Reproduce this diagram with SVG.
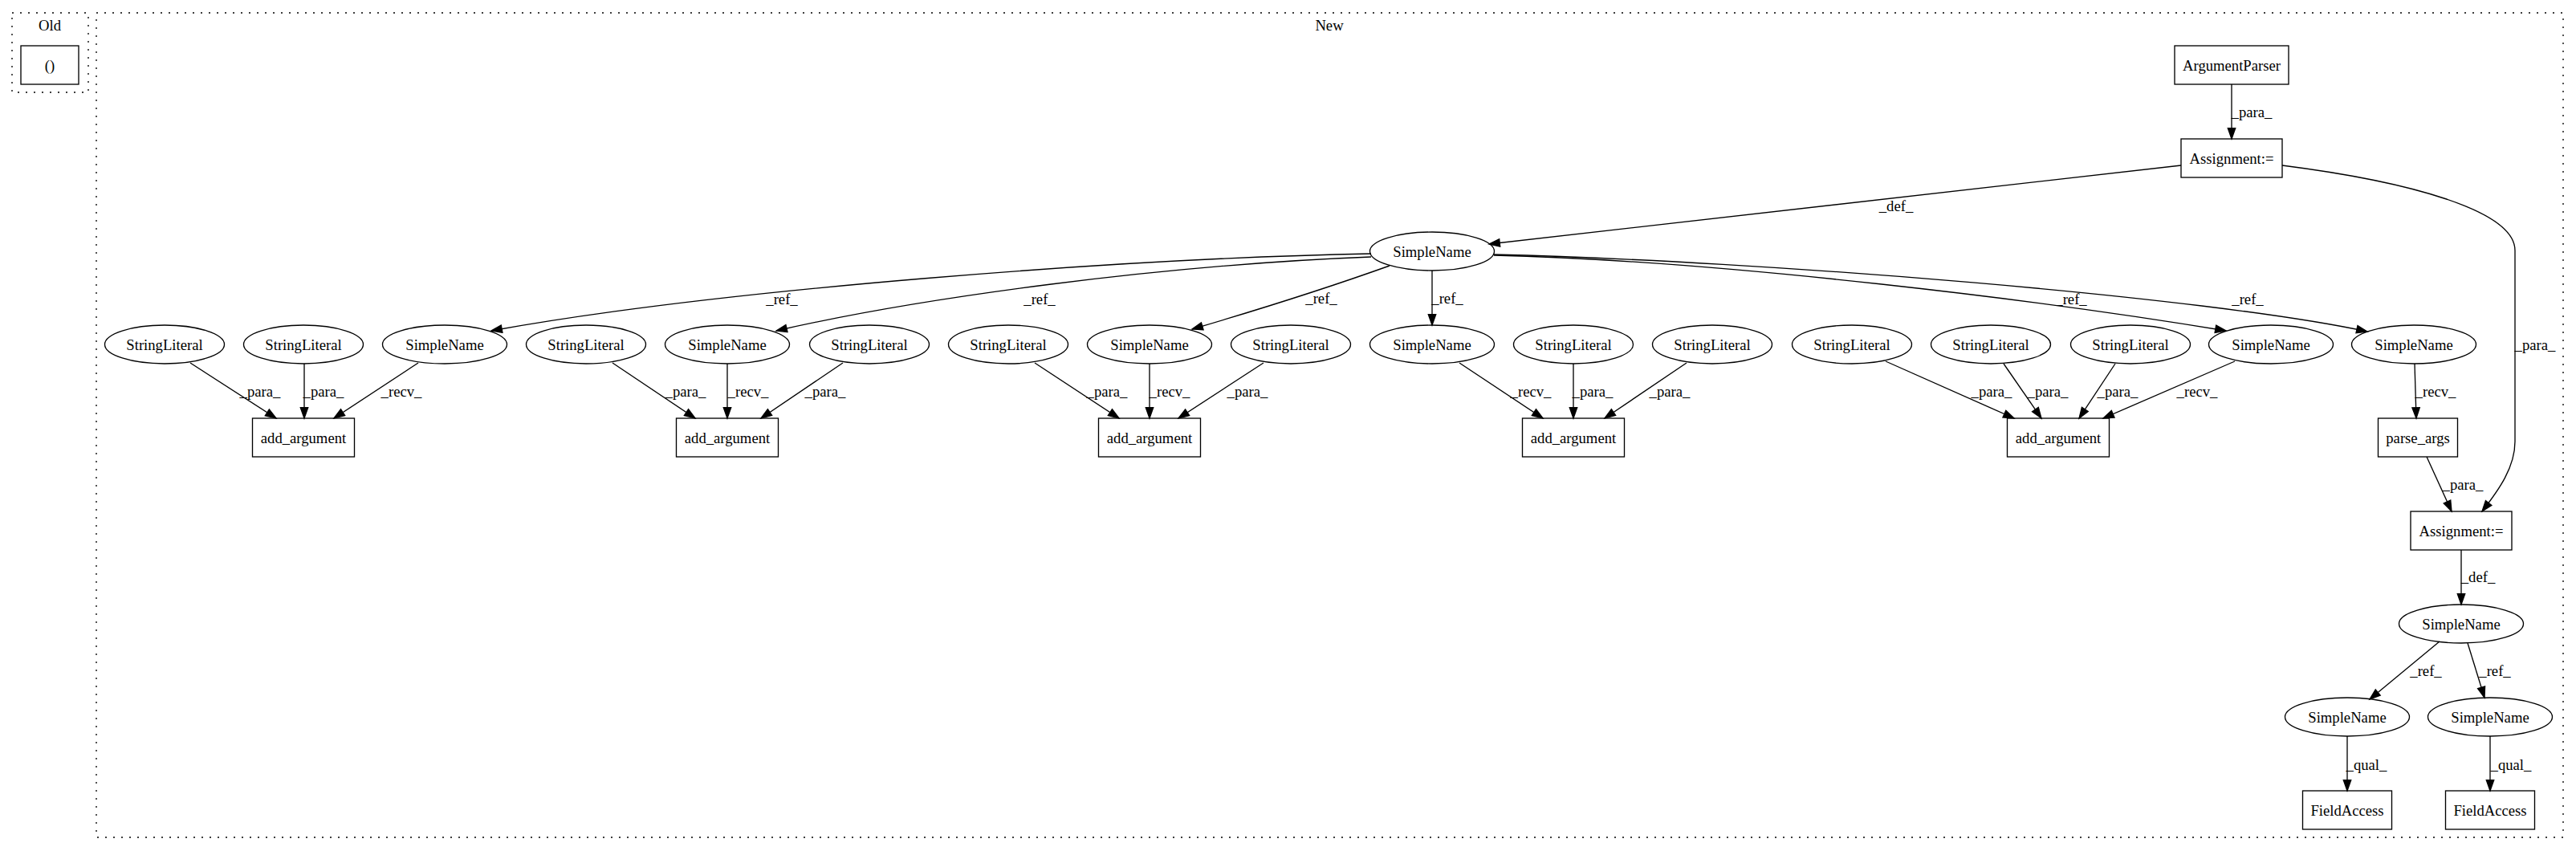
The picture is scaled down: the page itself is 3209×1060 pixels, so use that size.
<svg xmlns="http://www.w3.org/2000/svg" width="3209" height="1060" viewBox="0 0 3209 1060">
<defs>
<style>
.cl{fill:none;stroke:#000;stroke-width:1.33;stroke-dasharray:2,8}
.n ellipse,.n rect{fill:none;stroke:#000;stroke-width:1.33}
text{font-family:"Liberation Serif","Times New Roman",serif;font-size:18.67px;text-anchor:middle;fill:#000}
.e path{fill:none;stroke:#000;stroke-width:1.33;marker-end:url(#ah)}
</style>
<marker id="ah" markerUnits="userSpaceOnUse" markerWidth="16" markerHeight="12" viewBox="-1 -6 16 12" refX="13.3" refY="0" orient="auto" overflow="visible">
<path d="M0,-4.7 L13.3,0 L0,4.7 z" fill="#000" stroke="#000" stroke-width="1.33"/>
</marker>
</defs>
<rect width="3209" height="1060" fill="#fff"/>
<g id="cluster_old">
<rect class="cl" x="15" y="16" width="95" height="99"/>
<text x="62" y="37.5">Old</text>
</g>
<g id="cluster_new">
<rect class="cl" x="120" y="16" width="3073" height="1027"/>
<text x="1656" y="37.5">New</text>
</g>
<g id="connectors" class="e">
<path d="M2780,105 L2780,173"/>
<path d="M2717,206 L1855,304"/>
<path d="M2843,206 C3000,226 3133,262 3133,312 L3133,550 C3133,582 3113,610 3092,637"/>
<path d="M1708,316 C1400,322 900,360 612,412"/>
<path d="M1708,320 C1450,330 1150,370 967,412"/>
<path d="M1731,331 C1650,360 1560,388 1485,410"/>
<path d="M1784,337 L1784,405"/>
<path d="M1861,318 C2150,325 2550,375 2773,412"/>
<path d="M1861,317 C2200,325 2750,370 2949,413"/>
<path d="M237,452 L344,521"/>
<path d="M379,453 L379,521"/>
<path d="M521,452 L416,521"/>
<path d="M763,452 L866,521"/>
<path d="M906,453 L906,521"/>
<path d="M1050,452 L948,521"/>
<path d="M1289,452 L1394,521"/>
<path d="M1432,453 L1432,521"/>
<path d="M1574,452 L1468,521"/>
<path d="M1818,452 L1922,521"/>
<path d="M1960,453 L1960,521"/>
<path d="M2101,452 L1999,521"/>
<path d="M2349,450 L2509,521"/>
<path d="M2496,453 L2543,521"/>
<path d="M2635,453 L2590,521"/>
<path d="M2784,450 L2620,521"/>
<path d="M3008,453 L3010,521"/>
<path d="M3023,569 L3054,637"/>
<path d="M3066,685 L3066,753"/>
<path d="M3039,799 L2952,871"/>
<path d="M3074,801 L3095,869"/>
<path d="M2924,917 L2924,985"/>
<path d="M3102,917 L3102,985"/>
</g>
<g id="edge_labels">
<text x="2805" y="145.5">_para_</text>
<text x="2362" y="262.5">_def_</text>
<text x="3158" y="435.5">_para_</text>
<text x="974" y="378.5">_ref_</text>
<text x="1295" y="378.5">_ref_</text>
<text x="1646" y="377.5">_ref_</text>
<text x="1803" y="377.5">_ref_</text>
<text x="2580" y="378.5">_ref_</text>
<text x="2800" y="378.5">_ref_</text>
<text x="324" y="493.5">_para_</text>
<text x="403" y="493.5">_para_</text>
<text x="500" y="493.5">_recv_</text>
<text x="854" y="493.5">_para_</text>
<text x="932" y="493.5">_recv_</text>
<text x="1028" y="493.5">_para_</text>
<text x="1379" y="493.5">_para_</text>
<text x="1457" y="493.5">_recv_</text>
<text x="1554" y="493.5">_para_</text>
<text x="1907" y="493.5">_recv_</text>
<text x="1984" y="493.5">_para_</text>
<text x="2080" y="493.5">_para_</text>
<text x="2481" y="493.5">_para_</text>
<text x="2551" y="493.5">_para_</text>
<text x="2638" y="493.5">_para_</text>
<text x="2737" y="493.5">_recv_</text>
<text x="3034" y="493.5">_recv_</text>
<text x="3068" y="609.5">_para_</text>
<text x="3087" y="724.5">_def_</text>
<text x="3022" y="841.5">_ref_</text>
<text x="3108" y="841.5">_ref_</text>
<text x="2948" y="958.5">_qual_</text>
<text x="3128" y="958.5">_qual_</text>
</g>
<g id="n_old" class="n"><rect x="26" y="57" width="72" height="48"/><text x="62" y="87.5">()</text></g>
<g id="n_argparser" class="n"><rect x="2709" y="57" width="142" height="48"/><text x="2780" y="87.5">ArgumentParser</text></g>
<g id="n_assign1" class="n"><rect x="2717" y="173" width="126" height="48"/><text x="2780" y="203.5">Assignment:=</text></g>
<g id="n_sn_c" class="n"><ellipse cx="1784" cy="313" rx="77.5" ry="24"/><text x="1784" y="319.5">SimpleName</text></g>
<g id="n_sl1" class="n"><ellipse cx="205" cy="429" rx="74.5" ry="24"/><text x="205" y="435.5">StringLiteral</text></g>
<g id="n_sl2" class="n"><ellipse cx="378" cy="429" rx="74.5" ry="24"/><text x="378" y="435.5">StringLiteral</text></g>
<g id="n_sn1" class="n"><ellipse cx="554" cy="429" rx="77.5" ry="24"/><text x="554" y="435.5">SimpleName</text></g>
<g id="n_sl3" class="n"><ellipse cx="730" cy="429" rx="74.5" ry="24"/><text x="730" y="435.5">StringLiteral</text></g>
<g id="n_sn2" class="n"><ellipse cx="906" cy="429" rx="77.5" ry="24"/><text x="906" y="435.5">SimpleName</text></g>
<g id="n_sl4" class="n"><ellipse cx="1083" cy="429" rx="74.5" ry="24"/><text x="1083" y="435.5">StringLiteral</text></g>
<g id="n_sl5" class="n"><ellipse cx="1256" cy="429" rx="74.5" ry="24"/><text x="1256" y="435.5">StringLiteral</text></g>
<g id="n_sn3" class="n"><ellipse cx="1432" cy="429" rx="77.5" ry="24"/><text x="1432" y="435.5">SimpleName</text></g>
<g id="n_sl6" class="n"><ellipse cx="1608" cy="429" rx="74.5" ry="24"/><text x="1608" y="435.5">StringLiteral</text></g>
<g id="n_sn4" class="n"><ellipse cx="1784" cy="429" rx="77.5" ry="24"/><text x="1784" y="435.5">SimpleName</text></g>
<g id="n_sl7" class="n"><ellipse cx="1960" cy="429" rx="74.5" ry="24"/><text x="1960" y="435.5">StringLiteral</text></g>
<g id="n_sl8" class="n"><ellipse cx="2133" cy="429" rx="74.5" ry="24"/><text x="2133" y="435.5">StringLiteral</text></g>
<g id="n_sl9" class="n"><ellipse cx="2307" cy="429" rx="74.5" ry="24"/><text x="2307" y="435.5">StringLiteral</text></g>
<g id="n_sl10" class="n"><ellipse cx="2480" cy="429" rx="74.5" ry="24"/><text x="2480" y="435.5">StringLiteral</text></g>
<g id="n_sl11" class="n"><ellipse cx="2654" cy="429" rx="74.5" ry="24"/><text x="2654" y="435.5">StringLiteral</text></g>
<g id="n_sn5" class="n"><ellipse cx="2829" cy="429" rx="77.5" ry="24"/><text x="2829" y="435.5">SimpleName</text></g>
<g id="n_sn6" class="n"><ellipse cx="3007" cy="429" rx="77.5" ry="24"/><text x="3007" y="435.5">SimpleName</text></g>
<g id="n_add1" class="n"><rect x="314.5" y="521" width="127" height="48"/><text x="378" y="551.5">add_argument</text></g>
<g id="n_add2" class="n"><rect x="842.5" y="521" width="127" height="48"/><text x="906" y="551.5">add_argument</text></g>
<g id="n_add3" class="n"><rect x="1368.5" y="521" width="127" height="48"/><text x="1432" y="551.5">add_argument</text></g>
<g id="n_add4" class="n"><rect x="1896.5" y="521" width="127" height="48"/><text x="1960" y="551.5">add_argument</text></g>
<g id="n_add5" class="n"><rect x="2500.5" y="521" width="127" height="48"/><text x="2564" y="551.5">add_argument</text></g>
<g id="n_parse" class="n"><rect x="2962.5" y="521" width="99" height="48"/><text x="3012" y="551.5">parse_args</text></g>
<g id="n_assign2" class="n"><rect x="3003" y="637" width="126" height="48"/><text x="3066" y="667.5">Assignment:=</text></g>
<g id="n_sn7" class="n"><ellipse cx="3066" cy="777" rx="77.5" ry="24"/><text x="3066" y="783.5">SimpleName</text></g>
<g id="n_sn8" class="n"><ellipse cx="2924" cy="893" rx="77.5" ry="24"/><text x="2924" y="899.5">SimpleName</text></g>
<g id="n_sn9" class="n"><ellipse cx="3102" cy="893" rx="77.5" ry="24"/><text x="3102" y="899.5">SimpleName</text></g>
<g id="n_fa1" class="n"><rect x="2868.5" y="985" width="111" height="48"/><text x="2924" y="1015.5">FieldAccess</text></g>
<g id="n_fa2" class="n"><rect x="3046.5" y="985" width="111" height="48"/><text x="3102" y="1015.5">FieldAccess</text></g>
</svg>
